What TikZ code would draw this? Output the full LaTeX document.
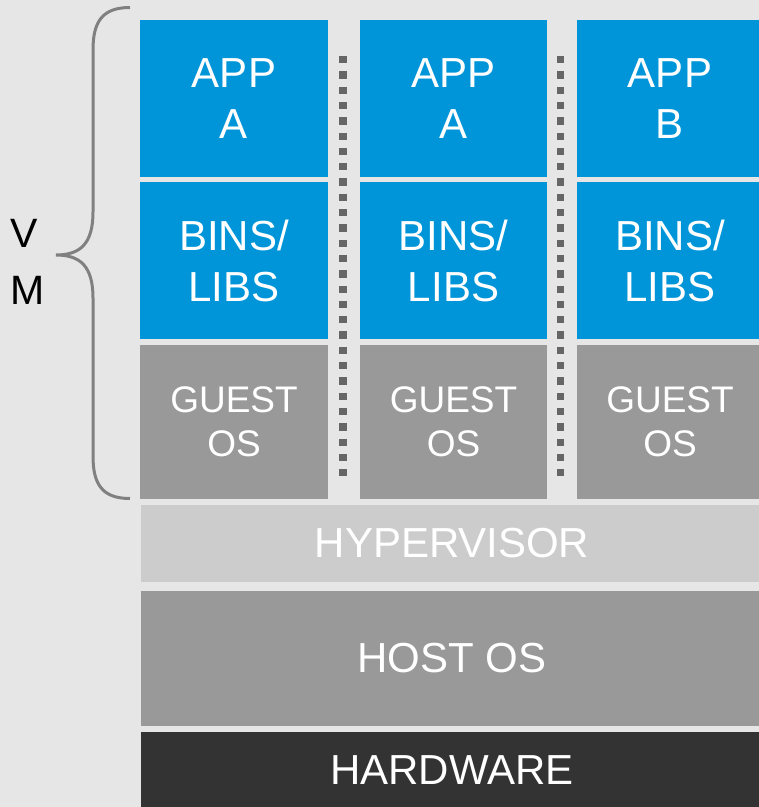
\documentclass[tikz,border=0pt]{standalone}
\usepackage{fontspec}
\setmainfont{Liberation Sans}
\definecolor{bgc}{HTML}{E6E6E6}
\definecolor{appblue}{HTML}{0095D9}
\definecolor{midgray}{HTML}{999999}
\definecolor{lightgray}{HTML}{CCCCCC}
\definecolor{darkgray}{HTML}{333333}
\definecolor{dotgray}{HTML}{666666}
\definecolor{bracegray}{HTML}{808080}
\begin{document}
\begin{tikzpicture}[x=1pt,y=-1pt,
  blk/.style={draw=none, inner sep=0pt, text=white, align=center, font=\fontsize{42}{51}\selectfont},
  appbox/.style={blk, fill=appblue, minimum height=156.7pt},
  guestbox/.style={blk, fill=midgray, minimum height=154pt, font=\fontsize{37}{44}\selectfont},
  sep/.style={draw=dotgray, line width=7.3pt, dash pattern=on 7.3pt off 8pt},
  bracestyle/.style={draw=bracegray, line width=3pt}]
\fill[bgc] (0,0) rectangle (759,807);
\useasboundingbox (0,0) rectangle (759,807);

% column 1
\node[appbox, minimum width=188pt] (app1) at (234,98.5) {APP\\A};
\node[appbox, minimum width=188pt] (bin1) at (234,260.5) {BINS/\\LIBS};
\node[guestbox, minimum width=188pt] (os1) at (234,422) {GUEST\\OS};
% column 2
\node[appbox, minimum width=187pt] (app2) at (453.5,98.5) {APP\\A};
\node[appbox, minimum width=187pt] (bin2) at (453.5,260.5) {BINS/\\LIBS};
\node[guestbox, minimum width=187pt] (os2) at (453.5,422) {GUEST\\OS};
% column 3
\node[appbox, minimum width=186pt] (app3) at (670,98.5) {APP\\B};
\node[appbox, minimum width=186pt] (bin3) at (670,260.5) {BINS/\\LIBS};
\node[guestbox, minimum width=186pt] (os3) at (670,422) {GUEST\\OS};

% layers
\node[blk, fill=lightgray, minimum width=622pt, minimum height=76.7pt] (hyp) at (452,543.35) {HYPERVISOR};
\node[blk, fill=midgray, minimum width=622pt, minimum height=135pt] (host) at (452,658.5) {HOST OS};
\node[blk, fill=darkgray, minimum width=622pt, minimum height=77pt] (hw) at (452,770.5) {HARDWARE};

% separators
\coordinate (s1a) at (343,56);
\coordinate (s1b) at (343,478);
\coordinate (s2a) at (560.3,56);
\coordinate (s2b) at (560.3,478);
\draw[sep] (s1a) -- (s1b);
\draw[sep] (s2a) -- (s2b);

% brace
\draw[bracestyle] (130,7.5) .. controls (102,7.5) and (93,22) .. (93,50)
  -- (93,212) .. controls (93,244) and (80,255) .. (56,255)
  .. controls (80,255) and (93,266) .. (93,298)
  -- (93,456) .. controls (93,484) and (102,498.5) .. (130,498.5);

\node[anchor=base west, inner sep=0pt, align=left, font=\fontsize{41}{57}\selectfont] (vm) at (10,304) {V\\M};
\end{tikzpicture}
\end{document}
